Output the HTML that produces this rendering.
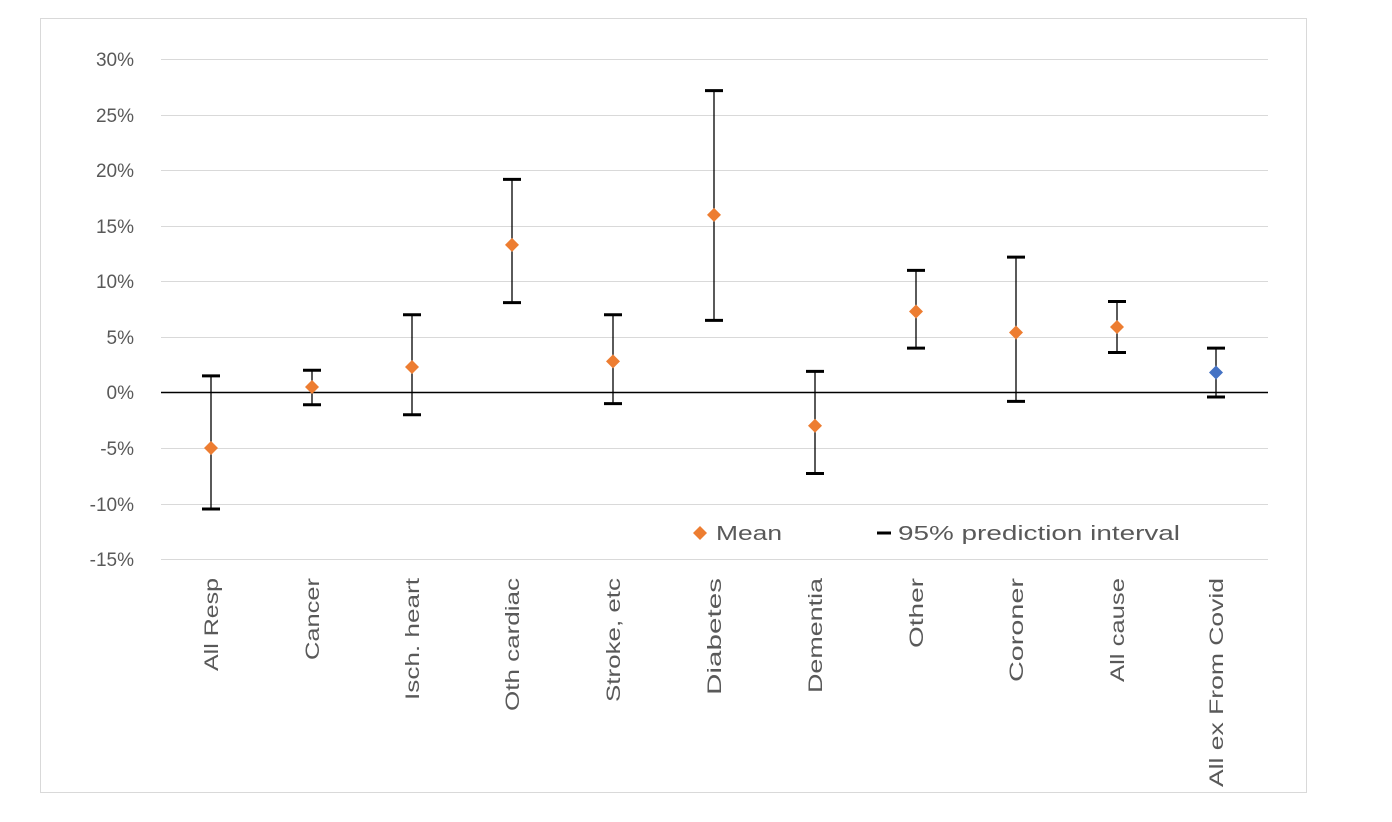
<!DOCTYPE html>
<html><head><meta charset="utf-8"><style>
html,body{margin:0;padding:0;background:#fff;}
svg{display:block;font-family:"Liberation Sans",sans-serif;}
</style></head><body>
<svg width="1392" height="822" xmlns="http://www.w3.org/2000/svg">
<rect x="0" y="0" width="1392" height="822" fill="#fff"/>
<rect x="40.5" y="18.5" width="1266" height="774" fill="#fff" stroke="#d9d9d9"/>
<g stroke="#d9d9d9" stroke-width="1">
<line x1="161" x2="1268" y1="59.5" y2="59.5"/>
<line x1="161" x2="1268" y1="115.5" y2="115.5"/>
<line x1="161" x2="1268" y1="170.5" y2="170.5"/>
<line x1="161" x2="1268" y1="226.5" y2="226.5"/>
<line x1="161" x2="1268" y1="281.5" y2="281.5"/>
<line x1="161" x2="1268" y1="337.5" y2="337.5"/>
<line x1="161" x2="1268" y1="448.5" y2="448.5"/>
<line x1="161" x2="1268" y1="504.5" y2="504.5"/>
<line x1="161" x2="1268" y1="559.5" y2="559.5"/>
</g>
<line x1="161" x2="1268" y1="392.5" y2="392.5" stroke="#000" stroke-width="1.5"/>
<g font-size="19" fill="#595959" text-anchor="end">
<text x="134" y="66">30%</text>
<text x="134" y="122">25%</text>
<text x="134" y="177">20%</text>
<text x="134" y="233">15%</text>
<text x="134" y="288">10%</text>
<text x="134" y="344">5%</text>
<text x="134" y="399">0%</text>
<text x="134" y="455">-5%</text>
<text x="134" y="511">-10%</text>
<text x="134" y="566">-15%</text>
</g>
<script>
var d=[[211,-5,-10.5,1.5],[312,0.5,-1.1,2],[412,2.3,-2,7],[512,13.3,8.1,19.2],[613,2.8,-1,7],[714,16,6.5,27.2],[815,-3,-7.3,1.9],[916,7.3,4,11],[1016,5.4,-0.8,12.2],[1117,5.9,3.6,8.2],[1216,1.8,-0.4,4]];
var L=["All Resp","Cancer","Isch. heart","Oth cardiac","Stroke, etc","Diabetes","Dementia","Other","Coroner","All cause","All ex From Covid"];
var W=[93,82,0,0,0,117,115,70,104,104,209];
var ns="http://www.w3.org/2000/svg",svg=document.querySelector("svg");
function y(v){return 392.5-v*11.1;}
function el(t,a){var e=document.createElementNS(ns,t);for(var k in a)e.setAttribute(k,a[k]);svg.appendChild(e);return e;}
d.forEach(function(r,i){var x=r[0];
el("line",{x1:x,x2:x,y1:y(r[3]),y2:y(r[2]),stroke:"#000","stroke-width":1.3});
el("line",{x1:x-9,x2:x+9,y1:y(r[3]),y2:y(r[3]),stroke:"#000","stroke-width":3});
el("line",{x1:x-9,x2:x+9,y1:y(r[2]),y2:y(r[2]),stroke:"#000","stroke-width":3});
var c=i==10?"#4472c4":"#ed7d31",yy=y(r[1]);
el("polygon",{points:(x)+","+(yy-7)+" "+(x+7)+","+yy+" "+x+","+(yy+7)+" "+(x-7)+","+yy,fill:c});
var t=el("text",{transform:"translate("+(x+7)+",578) rotate(-90)","font-size":"19",fill:"#595959","text-anchor":"end"});t.textContent=L[i];
var w=W[i]||Math.round(t.getComputedTextLength()*1.37);
t.setAttribute("textLength",w);t.setAttribute("lengthAdjust","spacingAndGlyphs");
});
</script>
<polygon points="700,526 707,533 700,540 693,533" fill="#ed7d31"/>
<text x="716" y="540" font-size="20" fill="#595959" textLength="66" lengthAdjust="spacingAndGlyphs">Mean</text>
<line x1="877" x2="891" y1="533" y2="533" stroke="#000" stroke-width="3"/>
<text x="898" y="540" font-size="20" fill="#595959" textLength="282" lengthAdjust="spacingAndGlyphs">95% prediction interval</text>
</svg>
</body></html>
